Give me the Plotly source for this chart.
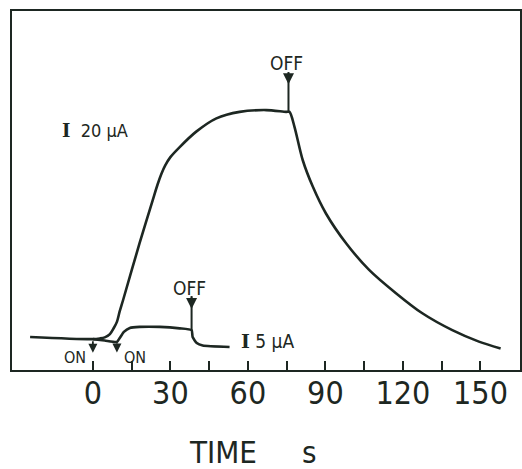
import plotly.graph_objects as go

# ---- data (time in s, response in arbitrary units) ----
t_20uA = [-24.3, 0.0, 2.7, 4.6, 6.6, 8.1, 9.3, 10.4, 11.7, 18.1, 23.2, 25.0, 26.5, 28.0, 30.0, 33.6,
          40.0, 47.8, 56.8, 67.1, 74.8, 76.1, 78.0, 81.2, 85.1, 90.2, 98.0, 106.9,
          117.3, 127.5, 139.1, 149.4, 157.8]
y_20uA = [9.2, 8.6, 8.8, 9.1, 10.0, 11.7, 13.4, 16.4, 19.5, 35.4, 47.4, 51.6, 54.6, 57.0, 59.3, 62.1,
          66.4, 70.1, 71.9, 72.4, 71.9, 71.9, 67.8, 58.5, 51.1, 43.6, 35.3, 27.9,
          21.4, 15.8, 11.1, 7.9, 6.0]

t_5uA = [0.0, 4.6, 9.3, 10.4, 12.0, 14.3, 18.1, 25.9, 33.6, 38.2, 38.6, 40.2, 42.5, 52.9]
y_5uA = [8.6, 8.2, 7.8, 8.9, 10.6, 11.7, 12.0, 12.0, 11.6, 11.1, 9.2, 7.5, 6.8, 6.4]

tick_vals = [0, 15, 30, 45, 60, 75, 90, 105, 120, 135, 150]
tick_text = ["0", "", "30", "", "60", "", "90", "", "120", "", "150"]

# events: (time, curve level, arrow tip level, stem top level, label, label level)
off_events = [(75.7, 71.9, 79.6, 83.0, "OFF", 85.6), (38.2, 11.1, 17.0, 20.6, "OFF", 22.9)]
on_events = [(0.0, 8.4, 4.8, "ON", -6.8), (9.3, 7.8, 4.9, "ON", 16.2)]

INK = "#1d2722"
FONT = "Liberation Sans Narrow, DejaVu Sans Condensed, sans-serif"
SERIF_I = "<span style='font-family:DejaVu Serif;font-weight:bold'>I</span>"

fig = go.Figure()
fig.add_trace(go.Scatter(x=t_20uA, y=y_20uA, mode="lines", line=dict(color=INK, width=2.6, shape="spline", smoothing=0.8),
                         hoverinfo="skip", showlegend=False))
fig.add_trace(go.Scatter(x=t_5uA, y=y_5uA, mode="lines", line=dict(color=INK, width=2.6, shape="spline", smoothing=0.5),
                         hoverinfo="skip", showlegend=False))

annotations = []
for (tx, ycur, ytip, ytop, lab, ylab) in off_events:
    fig.add_trace(go.Scatter(x=[tx, tx], y=[ycur, ytop], mode="lines", line=dict(color=INK, width=2),
                             hoverinfo="skip", showlegend=False))
    annotations.append(dict(x=tx, y=ytip, ax=tx, ay=ytop, xref="x", yref="y", axref="x", ayref="y",
                            text="", showarrow=True, arrowhead=2, arrowsize=1.1, arrowwidth=2, arrowcolor=INK))
    annotations.append(dict(x=tx - 0.8, y=ylab, xref="x", yref="y", text=lab, showarrow=False,
                            font=dict(size=19, color=INK, family=FONT)))
for (tx, ycur, ytip, lab, xlab) in on_events:
    annotations.append(dict(x=tx, y=ytip, ax=tx, ay=ycur, xref="x", yref="y", axref="x", ayref="y",
                            text="", showarrow=True, arrowhead=2, arrowsize=1.0, arrowwidth=1.8, arrowcolor=INK))
    annotations.append(dict(x=xlab, y=3.5, xref="x", yref="y", text=lab, showarrow=False,
                            font=dict(size=16, color=INK, family=FONT)))

annotations.append(dict(x=0.8, y=66.6, xref="x", yref="y", text=SERIF_I + "  20 µA", showarrow=False,
                        font=dict(size=18, color=INK, family=FONT)))
annotations.append(dict(x=67.6, y=8.2, xref="x", yref="y", text=SERIF_I + " 5 µA", showarrow=False,
                        font=dict(size=19, color=INK, family=FONT)))
annotations.append(dict(x=(223 - 12) / 509, y=-0.228, xref="paper", yref="paper", text="TIME", showarrow=False,
                        yanchor="middle", font=dict(size=31, color=INK, family=FONT)))
annotations.append(dict(x=(310 - 12) / 509, y=-0.228, xref="paper", yref="paper", text="s", showarrow=False,
                        yanchor="middle", font=dict(size=31, color=INK, family=FONT)))

fig.update_layout(
    width=522, height=469,
    margin=dict(l=12, r=2, t=11, b=99, autoexpand=False),
    paper_bgcolor="white", plot_bgcolor="white",
    annotations=annotations,
    xaxis=dict(range=[-31.3, 165.3], tickvals=tick_vals, ticktext=tick_text, ticks="inside",
               ticklen=9, tickwidth=2, tickcolor=INK, showgrid=False, zeroline=False, automargin=False,
               showline=True, linecolor=INK, linewidth=2, mirror=True, ticklabelstandoff=-6,
               tickfont=dict(size=32, color=INK, family=FONT)),
    yaxis=dict(range=[0, 100], showticklabels=False, ticks="", showgrid=False, zeroline=False, automargin=False,
               showline=True, linecolor=INK, linewidth=2, mirror=True),
)

fig.write_html("out.html", config={"responsive": False, "displayModeBar": False})

# remove the browser's default page margin so the figure fills the window exactly
with open("out.html", "r", encoding="utf-8") as f:
    html = f.read()
html = html.replace("<head>", "<head><style>html,body{margin:0;padding:0;overflow:hidden;}</style>", 1)
with open("out.html", "w", encoding="utf-8") as f:
    f.write(html)
